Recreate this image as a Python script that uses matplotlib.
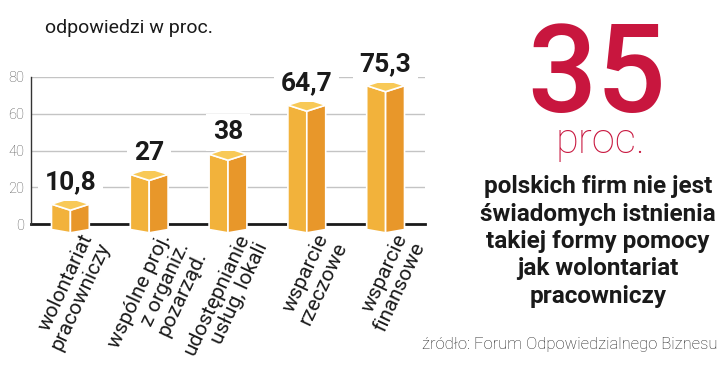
import matplotlib.pyplot as plt
from matplotlib.patches import Polygon
from matplotlib import transforms

# dane
categories = [
    "wolontariat\npracowniczy",
    "wspólne proj.\nz organiz.\npozarząd.",
    "udostępnianie\nusług, lokali",
    "wsparcie\nrzeczowe",
    "wsparcie\nfinansowe",
]
values = [10.8, 27, 38, 64.7, 75.3]
value_labels = ["10,8", "27", "38", "64,7", "75,3"]
yticks = [0, 20, 40, 60, 80]

headline = "35"
headline_unit = "proc."
note_lines = [
    "polskich firm nie jest",
    "świadomych istnienia",
    "takiej formy pomocy",
    "jak wolontariat",
    "pracowniczy",
]
source = "źródło: Forum Odpowiedzialnego Biznesu"
subtitle = "odpowiedzi w proc."

FONT = "Roboto"
col_top = "#F8C957"
col_front = "#F2B23B"
col_side = "#E8972A"
col_red = "#C8163E"

fig = plt.figure(figsize=(7.2, 3.76), dpi=100)
ax = fig.add_axes([31 / 720, 1 - 224 / 376, 394 / 720, 147 / 376])
ax.set_xlim(-0.5, 4.5)
ax.set_ylim(0, 80)

for s in ["top", "right", "bottom"]:
    ax.spines[s].set_visible(False)
ax.spines["left"].set_color("#333333")
ax.spines["left"].set_linewidth(1)
ax.set_xticks([])
ax.set_yticks(yticks)
ax.tick_params(axis="y", length=0, pad=5, labelsize=10.5, labelcolor="#555555")
for t in ax.get_yticklabels():
    t.set_fontfamily(FONT)
    t.set_fontweight("light")
for y in yticks[1:]:
    ax.axhline(y, color="#c4c4c4", lw=1, zorder=0)
ax.axhline(0, color="#1a1a1a", lw=2, zorder=1, clip_on=False)

hw = 0.24   # half bar width (data x)
d = 3.3     # depth of the top face (data y)
b0 = -3.0   # bottom corners below baseline
for i, v in enumerate(values):
    x = i
    front = [(x - hw, v), (x, v - d), (x, b0 - 1.8), (x - hw, b0)]
    side = [(x, v - d), (x + hw, v), (x + hw, b0), (x, b0 - 1.8)]
    top = [(x - hw, v), (x, v + d), (x + hw, v), (x, v - d)]
    for pts, c in ((front, col_front), (side, col_side), (top, col_top)):
        ax.add_patch(Polygon(pts, closed=True, facecolor=c, edgecolor="white",
                             lw=1.2, zorder=3, clip_on=False))
    ax.text(x, v + 8, value_labels[i], ha="center", va="baseline",
            fontsize=19, fontweight="bold", fontfamily=FONT, color="#1a1a1a",
            zorder=4, clip_on=False,
            bbox=dict(boxstyle="square,pad=0.25", fc="white", ec="none"))

    tr = ax.transData + transforms.ScaledTranslation(6 / 72, -5 / 72, fig.dpi_scale_trans)
    ax.text(x, 0, categories[i], transform=tr, rotation=65, rotation_mode="anchor",
            ha="right", va="top", multialignment="right", linespacing=1.05,
            fontsize=15, fontfamily=FONT, color="#1a1a1a", clip_on=False)

fig.text(45 / 720, 1 - 33 / 376, subtitle, ha="left", va="baseline",
         fontsize=14, fontfamily=FONT, color="#1a1a1a")

fig.text(597 / 720, 1 - 112 / 376, headline, ha="center", va="baseline",
         fontsize=88, fontfamily=FONT, fontweight="medium", color=col_red)
fig.text(600 / 720, 1 - 153 / 376, headline_unit, ha="center", va="baseline",
         fontsize=30, fontfamily=FONT, fontweight="light", color=col_red)

for k, line in enumerate(note_lines):
    fig.text(598 / 720, 1 - (193 + 27.5 * k) / 376, line, ha="center", va="baseline",
             fontsize=17.5, fontfamily=FONT, fontweight="bold", color="#1a1a1a")

fig.text(718 / 720, 1 - 349 / 376, source, ha="right", va="baseline",
         fontsize=12, fontfamily=FONT, fontweight="light", color="#222222")

fig.savefig("out.png", dpi=100)
